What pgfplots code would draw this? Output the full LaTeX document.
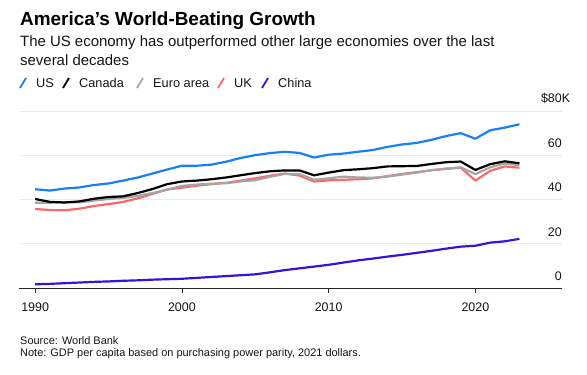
\documentclass[border=0pt]{standalone}
\usepackage{pgfplots}
\pgfplotsset{compat=1.18}
\usepackage{fontspec}
\setmainfont{Liberation Sans}
\definecolor{usblue}{RGB}{24,128,246}
\definecolor{cagray}{RGB}{0,0,0}
\definecolor{eugray}{RGB}{165,165,165}
\definecolor{ukred}{RGB}{250,105,105}
\definecolor{cnpurple}{RGB}{52,20,220}
\definecolor{txt}{RGB}{20,20,20}

\pgfplotstableread{
year us ca eu uk cn
1990 44.7 40.3 38.6 35.8 1.8
1991 44.1 39.0 38.6 35.3 2.0
1992 45.0 38.7 38.9 35.2 2.3
1993 45.5 39.2 38.8 35.9 2.6
1994 46.6 40.4 39.6 37.1 2.9
1995 47.3 41.2 40.3 38.0 3.1
1996 48.6 41.5 40.8 39.0 3.4
1997 50.0 43.0 41.7 40.6 3.6
1998 51.8 44.8 43.0 42.6 3.9
1999 53.6 47.0 44.5 44.6 4.1
2000 55.3 48.2 46.2 45.4 4.3
2001 55.3 48.6 46.8 46.3 4.7
2002 55.8 49.2 47.2 47.0 5.1
2003 57.1 50.0 47.4 47.6 5.5
2004 58.8 51.0 48.2 48.6 5.9
2005 60.1 52.0 48.8 49.6 6.3
2006 61.0 52.8 50.3 50.8 7.2
2007 61.6 53.2 51.6 51.8 8.2
2008 61.1 53.2 51.6 50.9 9.0
2009 59.0 51.0 49.0 48.2 9.8
2010 60.3 52.2 49.6 48.7 10.6
2011 60.8 53.3 50.4 49.0 11.6
2012 61.6 53.7 50.0 49.2 12.6
2013 62.4 54.2 49.9 49.6 13.4
2014 63.8 55.0 50.4 50.6 14.3
2015 64.9 55.1 51.3 51.6 15.1
2016 65.6 55.2 52.2 52.4 16.0
2017 67.0 56.1 53.3 53.3 16.9
2018 68.7 56.9 54.0 53.9 17.9
2019 70.0 57.2 54.6 54.4 18.8
2020 67.5 53.4 51.5 48.6 19.2
2021 71.3 56.0 54.6 53.0 20.6
2022 72.5 57.3 56.3 55.0 21.2
2023 74.0 56.4 55.6 54.4 22.3
}\gdp

\begin{document}
\begin{tikzpicture}
\path[use as bounding box] (0,0) rectangle (587bp,-375bp);
\node[anchor=base west, inner sep=0pt, font=\fontsize{19}{22}\selectfont\bfseries, text=black] at (20bp,-25.3bp) {America’s World-Beating Growth};
\node[anchor=base west, inner sep=0pt, font=\fontsize{15}{18}\selectfont, text=txt] at (20bp,-46.7bp) {The US economy has outperformed other large economies over the last};
\node[anchor=base west, inner sep=0pt, font=\fontsize{15}{18}\selectfont, text=txt] at (20bp,-65bp) {several decades};
% legend
\foreach \x/\t/\c in {20/US/usblue, 63/Canada/cagray, 137/Euro area/eugray, 218/UK/ukred, 262/China/cnpurple}{
  \draw[\c, line width=1.8bp] (\x bp,-88bp) -- ({\x bp+6bp},-78bp);
  \node[anchor=base west, inner sep=0pt, font=\fontsize{12.8}{15}\selectfont, text=txt] at ({\x bp+16bp},-87.7bp) {\t};
}
\node[anchor=base west, inner sep=0pt, font=\fontsize{11}{13}\selectfont, text=txt] at (20bp,-344bp) {Source: World Bank};
\node[anchor=base west, inner sep=0pt, font=\fontsize{11}{13}\selectfont, text=txt] at (20bp,-356bp) {Note: GDP per capita based on purchasing power parity, 2021 dollars.};

\begin{axis}[
  at={(19bp,-288.3bp)}, anchor=south west,
  scale only axis, width=543bp, height=177.3bp,
  xmin=1988.9, xmax=2025.9, ymin=0, ymax=80,
  axis line style={draw=none},
  clip=false,
  xtick={1990,2000,2010,2020},
  xticklabels={1990,2000,2010,2020},
  xtick pos=bottom, xtick align=outside,
  major tick length=5bp,
  x tick style={draw=black!85, line width=0.8bp},
  xticklabel style={font=\fontsize{12.5}{14}\selectfont, text=txt, inner sep=0pt, anchor=north, yshift=-9bp},
  ytick={0,20,40,60,80},
  yticklabels={0,20,40,60,{\$80\rlap{K}}},
  ytick pos=right, yticklabel pos=right,
  y tick style={draw=none},
  yticklabel style={font=\fontsize{12.5}{14}\selectfont, text=txt, inner sep=0pt, anchor=south east, yshift=7.5bp},
  ymajorgrids, grid style={draw=black!8, line width=1bp},
  every axis plot/.append style={line width=2.2bp, line join=round, no markers},
]
\draw[black!85, line width=1bp] (rel axis cs:0,0) -- (rel axis cs:1,0);
\addplot[cnpurple] table[x=year, y=cn] {\gdp};
\addplot[ukred] table[x=year, y=uk] {\gdp};
\addplot[eugray] table[x=year, y=eu] {\gdp};
\addplot[cagray] table[x=year, y=ca] {\gdp};
\addplot[usblue] table[x=year, y=us] {\gdp};
\end{axis}
\end{tikzpicture}
\end{document}
